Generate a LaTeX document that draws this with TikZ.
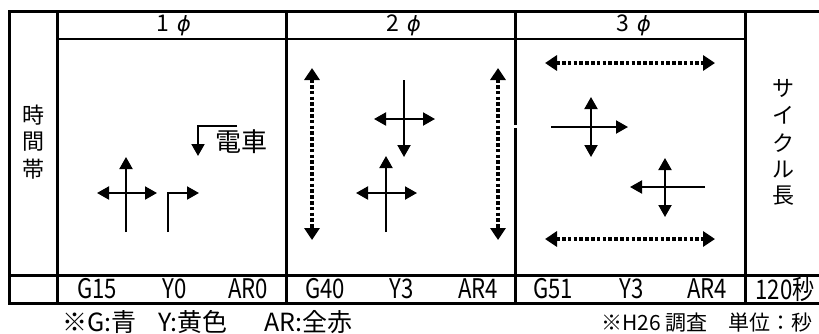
\documentclass[tikz,border=0pt]{standalone}
\usepackage{fontspec}
\setmainfont{Noto Sans CJK JP}
\newfontfamily\jpnarrow[FakeStretch=0.82]{Noto Sans CJK JP}
\newfontfamily\phifont[FakeSlant=0.2]{DejaVu Sans}
\usetikzlibrary{arrows.meta}
\tikzset{
  tbl/.style={line width=3pt},
  hdr/.style={line width=2pt},
  sig/.style={line width=2pt,-{Triangle[length=12pt,width=13pt]}},
  sigboth/.style={line width=2pt,{Triangle[length=12pt,width=13pt]}-{Triangle[length=12pt,width=13pt]}},
  dots/.style={line width=3.5pt,dash pattern=on 3.5pt off 2.3pt,{Triangle[length=12pt,width=15pt]}-{Triangle[length=12pt,width=15pt]}},
  vchar/.style={font=\fontsize{22}{22}\selectfont,inner sep=0pt},
  phase/.style={font=\fontsize{23}{23}\selectfont,inner sep=0pt},
  timing/.style={font=\jpnarrow\fontsize{27}{27}\selectfont,inner sep=0pt},
  note/.style={font=\fontsize{25}{25}\selectfont,inner sep=0pt},
}
\newcommand{\phsym}{{\phifont\fontsize{21}{21}\selectfont ϕ}}
\begin{document}
\begin{tikzpicture}[x=1pt,y=-1pt]
\useasboundingbox (0,0) rectangle (819,333);
% table frame
\draw[tbl] (819,11) -- (9,11) -- (9,303) -- (819,303);
\draw[tbl] (9,275) -- (819,275);
\draw[hdr] (57,39) -- (745,39);
\draw[tbl] (57,11) -- (57,303);
\draw[tbl] (286,11) -- (286,303);
\draw[tbl] (515,11) -- (515,125);
\draw[tbl] (515,128) -- (515,303);
\draw[tbl] (745,11) -- (745,303);
% headers
\node[phase] (h1) at (173,25) {1\hspace{7pt}\phsym};
\node[phase] (h2) at (403,25) {2\hspace{7pt}\phsym};
\node[phase] (h3) at (633,25) {3\hspace{7pt}\phsym};
% vertical labels
\node[vchar] (t1) at (33,115) {時};
\node[vchar] (t2) at (33,142) {間};
\node[vchar] (t3) at (33,169) {帯};
\node[vchar] (c1) at (783,88) {サ};
\node[vchar] (c2) at (783,115) {イ};
\node[vchar] (c3) at (783,143) {ク};
\node[vchar] (c4) at (783,170) {ル};
\node[vchar] (c5) at (783,196) {長};
% bottom row
\node[timing] (g1) at (97,289) {G15};
\node[timing] (y1) at (175,289) {Y0};
\node[timing] (r1) at (248,289) {AR0};
\node[timing] (g2) at (325,289) {G40};
\node[timing] (y2) at (402,289) {Y3};
\node[timing] (r2) at (478,289) {AR4};
\node[timing] (g3) at (553,289) {G51};
\node[timing] (y3) at (632,289) {Y3};
\node[timing] (r3) at (707,289) {AR4};
\node[timing] (cy) at (785,289) {120秒};
% footnotes
\node[note,anchor=west] (n1) at (62,322) {※G:青};
\node[note,anchor=west] (n2) at (158,322) {Y:黄色};
\node[note,anchor=west] (n3) at (264,322) {AR:全赤};
\node[font=\fontsize{21}{21}\selectfont,inner sep=0pt,anchor=east] (n4) at (813,323) {※H26 調査\hspace{21pt}単位：秒};
% ---- phase 1
\coordinate (a1b) at (126,232); \coordinate (a1t) at (126,157);
\coordinate (a1l) at (97,193);  \coordinate (a1r) at (157,193);
\draw[sig] (a1b) -- (a1t);
\draw[sigboth] (a1l) -- (a1r);
\coordinate (a2s) at (168,232); \coordinate (a2c) at (168,193); \coordinate (a2e) at (199,193);
\draw[sig] (a2s) -- (a2c) -- (a2e);
\coordinate (a3s) at (237,126); \coordinate (a3c) at (198,126); \coordinate (a3e) at (198,156);
\draw[sig] (a3s) -- (a3c) -- (a3e);
\node[font=\fontsize{26}{26}\selectfont,inner sep=0pt] (tr) at (241,142) {電車};
% ---- phase 2
\coordinate (b1t) at (312,68); \coordinate (b1b) at (312,240);
\coordinate (b2t) at (498,68); \coordinate (b2b) at (498,240);
\draw[dots] (b1t) -- (b1b);
\draw[dots] (b2t) -- (b2b);
\coordinate (b3t) at (404,80); \coordinate (b3b) at (404,157);
\coordinate (b3l) at (374,119); \coordinate (b3r) at (435,119);
\draw[sig] (b3t) -- (b3b);
\draw[sigboth] (b3l) -- (b3r);
\coordinate (b4b) at (386,232); \coordinate (b4t) at (386,156);
\coordinate (b4l) at (356,193); \coordinate (b4r) at (417,193);
\draw[sig] (b4b) -- (b4t);
\draw[sigboth] (b4l) -- (b4r);
% ---- phase 3
\coordinate (d1l) at (545,63); \coordinate (d1r) at (715,63);
\coordinate (d2l) at (545,239); \coordinate (d2r) at (715,239);
\draw[dots] (d1l) -- (d1r);
\draw[dots] (d2l) -- (d2r);
\coordinate (e1t) at (591,97); \coordinate (e1b) at (591,157);
\coordinate (e1l) at (551,127); \coordinate (e1r) at (628,127);
\draw[sigboth] (e1t) -- (e1b);
\draw[sig] (e1l) -- (e1r);
\coordinate (e2t) at (665,158); \coordinate (e2b) at (665,217);
\coordinate (e2r) at (705,187); \coordinate (e2l) at (630,187);
\draw[sigboth] (e2t) -- (e2b);
\draw[sig] (e2r) -- (e2l);
\end{tikzpicture}
\end{document}
